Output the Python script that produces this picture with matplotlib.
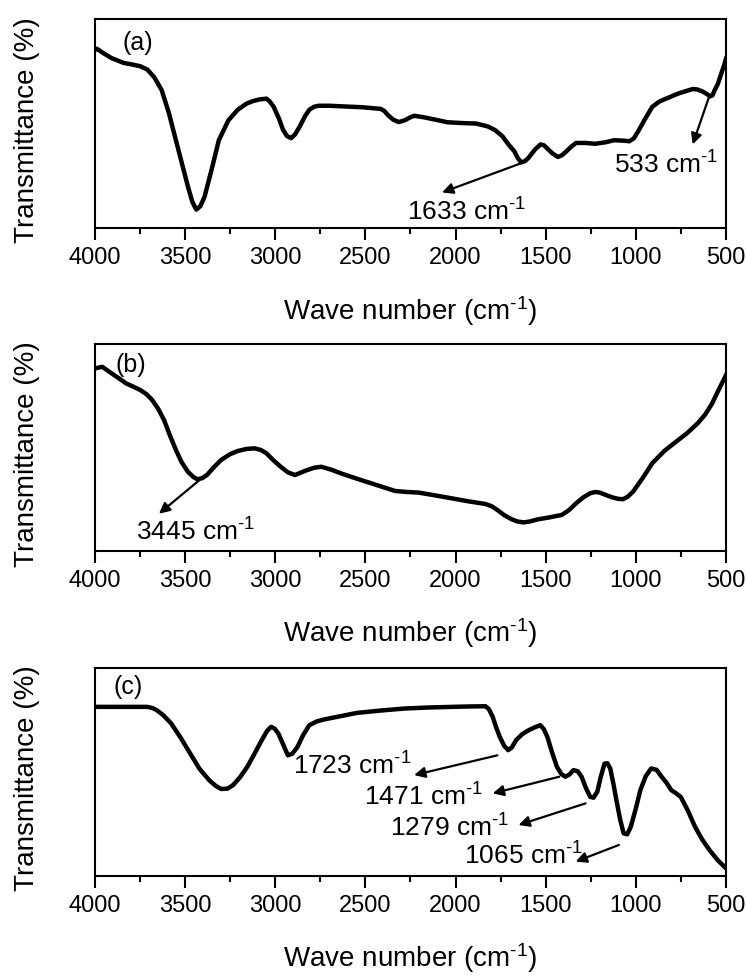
import matplotlib
matplotlib.use('Agg')
from matplotlib import pyplot as plt
from matplotlib.ticker import MultipleLocator

plt.rcParams['font.family'] = ['Liberation Sans', 'DejaVu Sans']
plt.rcParams['mathtext.fontset'] = 'custom'
plt.rcParams['mathtext.rm'] = 'Liberation Sans'
plt.rcParams['mathtext.it'] = 'Liberation Sans'

# panel (a)
wn_a = [4000, 3990, 3950, 3908, 3841, 3780, 3749, 3709, 3670, 3630, 3590, 3551, 3515, 3485, 3460,
        3438, 3415, 3392, 3350, 3313, 3260, 3208, 3160, 3128, 3090, 3049, 3030, 3009, 2980, 2957,
        2935, 2912, 2890, 2864, 2835, 2811, 2785, 2759, 2700, 2626, 2520, 2415, 2395, 2375, 2345,
        2315, 2283, 2255, 2230, 2177, 2110, 2045, 1960, 1887, 1821, 1780, 1740, 1705, 1674, 1655,
        1636, 1615, 1596, 1560, 1529, 1510, 1491, 1460, 1432, 1410, 1385, 1360, 1332, 1280, 1226,
        1170, 1120, 1070, 1036, 1010, 989, 950, 909, 870, 830, 760, 685, 660, 632, 610, 587,
        575, 566, 545, 526, 512, 500]
tr_a = [85.3, 85.8, 83.5, 81.3, 79.0, 78.0, 77.4, 75.8, 72.0, 66.0, 55.0, 42.0, 30.0, 20.0, 12.5,
        8.8, 10.5, 15.0, 29.0, 42.0, 51.5, 56.6, 59.5, 60.6, 61.5, 61.9, 60.5, 58.0, 52.5, 47.0,
        44.0, 43.0, 44.8, 48.6, 53.5, 56.6, 58.0, 58.5, 58.5, 58.2, 57.8, 57.0, 56.0, 54.0, 51.8,
        50.7, 51.5, 52.8, 53.7, 53.0, 51.8, 50.6, 50.2, 50.0, 48.6, 46.8, 43.9, 39.8, 36.7, 33.5,
        31.4, 32.0, 33.5, 37.5, 40.0, 39.6, 38.0, 35.5, 34.0, 34.8, 36.7, 38.8, 40.7, 40.7, 40.3,
        41.0, 42.0, 41.8, 41.5, 43.0, 46.0, 52.0, 58.0, 60.5, 62.0, 64.5, 66.5, 66.3, 65.4, 64.3, 63.0,
        63.5, 65.4, 69.0, 74.0, 77.5, 81.0]

# panel (b)
wn_b = [4000, 3960, 3930, 3894, 3860, 3828, 3790, 3749, 3715, 3683, 3650, 3617, 3585, 3551, 3520,
        3485, 3455, 3432, 3405, 3379, 3340, 3300, 3250, 3208, 3160, 3115, 3080, 3049, 3010, 2970,
        2930, 2891, 2860, 2826, 2785, 2745, 2690, 2626, 2550, 2468, 2400, 2336, 2270, 2204, 2110,
        2019, 1930, 1834, 1800, 1768, 1730, 1689, 1655, 1623, 1590, 1543, 1480, 1411, 1370, 1332,
        1290, 1253, 1225, 1200, 1165, 1134, 1100, 1072, 1045, 1015, 960, 909, 840, 777, 715,
        657, 615, 577, 540, 500]
tr_b = [88.2, 89.0, 87.2, 85.0, 83.0, 81.0, 79.5, 77.8, 75.8, 73.0, 68.8, 63.3, 56.0, 48.8, 43.0,
        38.3, 35.8, 34.6, 35.2, 36.7, 40.5, 44.0, 46.8, 48.3, 49.3, 49.6, 48.8, 47.2, 43.8, 40.7,
        38.0, 36.7, 37.8, 39.0, 40.2, 40.7, 39.3, 37.2, 35.0, 32.7, 30.8, 29.0, 28.5, 28.2, 26.8,
        25.4, 24.0, 22.7, 21.6, 19.8, 17.3, 15.3, 14.2, 13.8, 14.2, 15.3, 16.2, 17.4, 19.8, 23.0,
        26.0, 27.9, 28.5, 28.2, 27.0, 26.0, 25.2, 25.0, 26.2, 28.7, 35.5, 42.4, 48.5, 52.8, 57.0,
        61.7, 66.0, 71.3, 78.0, 85.0]

# panel (c)
wn_c = [4000, 3850, 3709, 3680, 3657, 3620, 3577, 3525, 3472, 3420, 3366, 3330, 3300, 3265, 3234,
        3195, 3155, 3115, 3075, 3045, 3023, 3003, 2983, 2955, 2930, 2905, 2877, 2845, 2811, 2770,
        2732, 2640, 2547, 2420, 2283, 2150, 2019, 1920, 1834, 1815, 1794, 1775, 1755, 1730, 1708,
        1688, 1664, 1630, 1596, 1560, 1530, 1510, 1491, 1465, 1438, 1413, 1391, 1368, 1346, 1322,
        1301, 1278, 1253, 1235, 1214, 1195, 1174, 1158, 1142, 1125, 1108, 1088, 1068, 1048, 1028,
        1000, 975, 945, 915, 885, 857, 830, 804, 778, 751, 712, 672, 632, 592, 545, 500]
tr_c = [81.3, 81.3, 81.3, 80.7, 79.7, 77.2, 73.3, 66.5, 58.9, 51.5, 46.0, 43.3, 41.8, 42.0, 43.7,
        47.5, 52.5, 58.8, 65.3, 69.8, 71.7, 70.8, 68.5, 63.0, 58.0, 58.8, 62.0, 67.8, 72.5, 74.3,
        75.2, 76.8, 78.4, 79.5, 80.5, 81.0, 81.3, 81.5, 81.6, 80.2, 76.5, 71.5, 66.9, 62.5, 60.5,
        61.8, 65.3, 68.2, 70.0, 71.5, 72.5, 70.5, 66.9, 59.5, 52.5, 49.0, 47.7, 48.8, 50.9, 50.3,
        47.7, 42.5, 38.0, 37.6, 40.5, 47.5, 54.0, 54.2, 51.7, 44.5, 36.5, 27.5, 20.5, 20.0, 23.7,
        32.5, 41.3, 48.0, 51.7, 51.0, 47.7, 44.8, 41.3, 39.8, 38.0, 31.5, 23.7, 17.5, 12.5, 7.5, 3.7]

panel_tags = ['(a)', '(b)', '(c)']
tag_pos = [(3765, 88.5), (3800, 89.9), (3815, 90.9)]

# peak labels: (text, text position, arrow tail, arrow head)
peaks_a = [(r'1633 cm$^{\text{-1}}$', (1940, 7.5), (1636, 31.0), (2075, 17.0)),
           (r'533 cm$^{\text{-1}}$', (830, 30.0), (593, 63.0), (685, 40.0))]
peaks_b = [(r'3445 cm$^{\text{-1}}$', (3445, 9.0), (3424, 34.0), (3645, 18.0))]
peaks_c = [(r'1723 cm$^{\text{-1}}$', (2574, 53.0), (1768, 58.0), (2230, 48.5)),
           (r'1471 cm$^{\text{-1}}$', (2177, 38.0), (1425, 47.7), (1794, 39.7)),
           (r'1279 cm$^{\text{-1}}$', (2032, 23.0), (1279, 34.9), (1651, 24.5)),
           (r'1065 cm$^{\text{-1}}$', (1623, 9.5), (1094, 14.9), (1334, 6.9))]

series = [(wn_a, tr_a, peaks_a), (wn_b, tr_b, peaks_b), (wn_c, tr_c, peaks_c)]
boxes = [[0.1273, 0.7664, 0.8459, 0.2141],
         [0.1273, 0.4355, 0.8459, 0.2120],
         [0.1273, 0.1025, 0.8459, 0.2131]]

fig = plt.figure(figsize=(7.46, 9.76), dpi=100)

for i, (wn, tr, peaks) in enumerate(series):
    ax = fig.add_axes(boxes[i])
    ax.plot(wn, tr, color='black', lw=3.2, solid_joinstyle='round')
    ax.set_xlim(4000, 500)
    ax.set_ylim(0, 100)
    ax.xaxis.set_major_locator(MultipleLocator(500))
    ax.xaxis.set_minor_locator(MultipleLocator(250))
    ax.set_yticks([])
    ax.tick_params(axis='x', which='major', direction='out', length=8.5, width=1.5,
                   labelsize=17, pad=5)
    ax.tick_params(axis='x', which='minor', direction='out', length=4.3, width=1.5)
    for sp in ax.spines.values():
        sp.set_linewidth(1.5)
    ax.set_xlabel(r'Wave number (cm$^{\text{-1}}$)', fontsize=20)
    ax.xaxis.set_label_coords(0.5, -0.315)
    ax.set_ylabel('Transmittance (%)', fontsize=20)
    ax.yaxis.set_label_coords(-0.087, 0.47)
    ax.text(tag_pos[i][0], tag_pos[i][1], panel_tags[i], fontsize=18,
            ha='center', va='center')
    for label, tpos, tail, head in peaks:
        ax.annotate('', xy=head, xytext=tail,
                    arrowprops=dict(arrowstyle='-|>', color='black', lw=1.6,
                                    mutation_scale=16, shrinkA=0, shrinkB=0))
        ax.text(tpos[0], tpos[1], label, fontsize=19, ha='center', va='center')

plt.savefig('out.png', dpi=100)
